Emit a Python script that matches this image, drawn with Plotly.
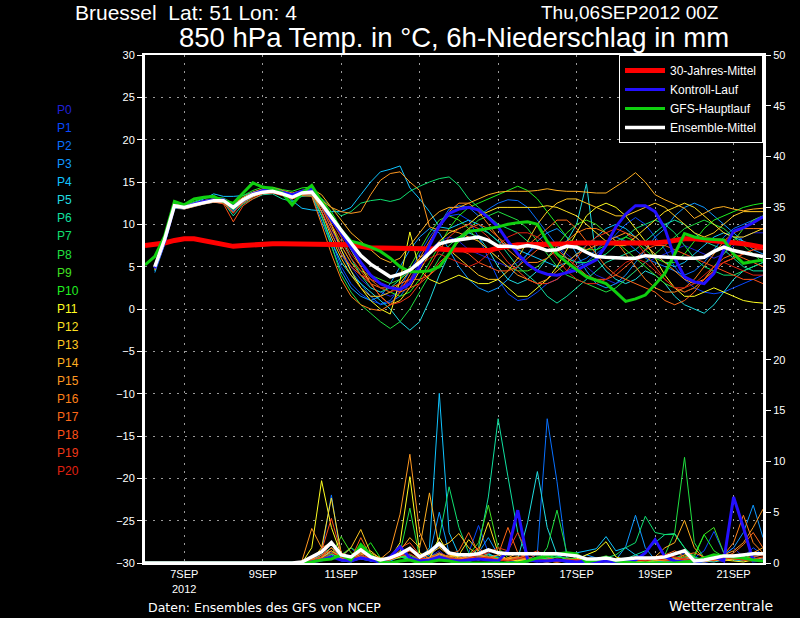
import pandas as pd
import plotly.graph_objects as go

# 6-hourly steps, GFS run of 06SEP2012 00Z
times = pd.date_range("2012-09-06 00:00", periods=64, freq="6h")
tick_days = ["2012-09-07", "2012-09-09", "2012-09-11", "2012-09-13",
             "2012-09-15", "2012-09-17", "2012-09-19", "2012-09-21"]
tick_labels = ["7SEP<br>2012", "9SEP", "11SEP", "13SEP",
               "15SEP", "17SEP", "19SEP", "21SEP"]
member_names = ["P%d" % k for k in range(21)]

# 850 hPa temperature (deg C)
t_clim = [7.5, 7.6, 7.8, 8.1, 8.3, 8.3, 8.1, 7.9, 7.6, 7.4, 7.5, 7.6, 7.7, 7.7, 7.7, 7.7,
          7.7, 7.7, 7.7, 7.7, 7.7, 7.6, 7.4, 7.2, 7.2, 7.2, 7.2, 7.2, 7.2, 7.2, 7.1, 7.0,
          7.0, 6.9, 6.9, 6.9, 7.2, 7.4, 7.6, 7.6, 7.6, 7.6, 7.7, 7.7, 7.8, 7.8, 7.8, 7.8,
          7.7, 7.7, 7.7, 7.7, 7.8, 7.9, 8.1, 8.3, 8.3, 8.2, 8.1, 8.0, 7.9, 7.7, 7.5, 7.3]
t_control = [None, 4.8, 8.0, 12.2, 12.0, 12.4, 12.7, 12.9, 12.9, 12.1, 12.9, 13.6, 14.0, 14.1, 13.8, 13.5, 13.9, 14.2,
             12.5, 10.5, 9.0, 7.2, 5.5, 4.0, 3.0, 2.5, 2.3, 3.0,
             5.0, 7.5, 9.8, 11.3, 11.8, 12.0, 11.7, 10.8, 9.7, 8.0,
             6.5, 5.3, 4.5, 4.1, 4.0, 4.3, 4.6, 5.2, 5.8, 7.5,
             9.7, 11.2, 12.2, 12.2, 11.5, 9.5, 6.0, 3.8, 3.2, 3.0,
             4.2, 7.0, 9.2, 9.6, 10.2, 10.9]
t_gfs = [5.2, 6.2, 8.6, 12.7, 12.3, 13.0, 13.2, 13.3, 12.7, 12.5, 13.7, 14.9, 14.4, 14.2, 13.7, 12.3, 13.7, 14.6,
         12.7, 11.0, 9.3, 8.0, 7.7, 7.3, 6.8, 6.0, 5.0, 4.4,
         4.4, 4.5, 5.0, 6.5, 8.3, 9.2, 9.3, 9.5, 9.7, 10.0,
         10.2, 10.3, 10.0, 8.0, 6.5, 5.5, 4.7, 3.8, 3.4, 3.0,
         2.0, 0.9, 1.2, 1.65, 2.9, 4.2, 6.5, 8.9, 8.5, 8.3,
         8.2, 8.15, 6.5, 5.4, 5.6, 5.8]
t_mean = [None, 5.0, 8.2, 12.2, 12.0, 12.3, 12.6, 12.8, 12.8, 12.0, 12.9, 13.5, 13.8, 13.9, 13.6, 13.2, 13.7, 13.8,
          12.4, 10.8, 9.3, 7.8, 6.3, 5.3, 4.6, 3.8, 4.1, 4.6,
          5.5, 6.6, 7.7, 8.0, 8.2, 8.3, 8.5, 8.1, 7.4, 7.4,
          7.3, 7.5, 7.3, 6.9, 7.0, 7.4, 7.3, 6.7, 6.2, 6.1,
          6.0, 6.0, 6.0, 6.3, 6.2, 6.1, 6.0, 6.0, 6.0, 6.1,
          6.8, 7.3, 6.9, 6.6, 6.4, 6.2]

t_p0 = [None, 5.0, 8.1, 12.3, 12.1, 12.4, 12.7, 12.9, 12.9, 12.2, 13.0, 13.6, 14.0, 14.1, 13.8, 13.4, 13.9, 14.0,
        12.0, 9.5, 7.0, 5.0, 3.5, 2.5, 2.0, 1.5, 2.0, 3.5,
        5.5, 7.0, 8.0, 8.5, 8.0, 7.0, 6.5, 6.0, 5.5, 5.0,
        5.5, 6.5, 7.5, 8.0, 7.5, 6.5, 5.5, 5.0, 4.0, 3.5,
        3.0, 3.5, 4.5, 5.5, 6.0, 6.5, 7.0, 7.5, 7.0, 6.5,
        6.0, 6.5, 7.5, 8.5, 9.0, 9.0]
t_p1 = [None, 4.6, 7.8, 12.0, 11.9, 12.2, 12.5, 12.7, 12.6, 11.6, 12.6, 13.3, 13.8, 13.9, 13.5, 13.1, 13.6, 13.6,
        11.0, 8.0, 5.0, 3.0, 1.8, 1.0, 0.6, 1.0, 2.5, 4.5,
        6.5, 8.5, 10.0, 11.0, 11.2, 10.5, 8.5, 6.0, 3.5, 1.8,
        1.0, 1.2, 2.0, 3.0, 3.5, 4.5, 5.0, 5.5, 6.5, 7.5,
        8.8, 10.0, 10.8, 10.0, 8.5, 7.0, 5.0, 3.5, 2.5, 2.0,
        1.8, 2.0, 2.5, 3.0, 3.5, 4.0]
t_p2 = [None, 4.8, 7.9, 12.1, 12.0, 12.3, 12.6, 12.8, 12.7, 11.9, 12.8, 13.4, 13.9, 14.0, 13.6, 13.3, 13.7, 13.7,
        11.5, 9.0, 6.5, 4.5, 3.0, 1.5, 0.5, 0.8, 1.5, 3.0,
        5.0, 7.5, 10.0, 11.8, 12.2, 12.0, 11.0, 11.8, 12.5, 12.9,
        12.8, 12.0, 10.5, 9.0, 7.5, 6.0, 5.5, 6.0, 7.0, 8.0,
        8.5, 8.0, 7.0, 6.0, 5.5, 5.0, 4.5, 4.0, 4.5, 5.5,
        7.0, 8.5, 9.5, 10.0, 10.5, 11.0]
t_p3 = [None, 4.3, 7.6, 11.9, 11.8, 12.1, 12.4, 12.6, 12.5, 11.5, 12.6, 13.3, 13.7, 13.8, 13.5, 13.0, 13.5, 13.4,
        10.5, 7.5, 4.5, 2.5, 1.5, 1.0, 1.5, 3.0, 5.0, 7.0,
        8.5, 9.5, 9.0, 7.0, 5.0, 3.5, 2.5, 2.0, 2.5, 3.5,
        5.0, 6.5, 8.0, 9.0, 9.5, 8.5, 6.5, 4.5, 3.0, 2.5,
        3.0, 4.0, 5.5, 7.0, 8.5, 9.5, 11.0, 12.0, 12.5, 12.0,
        11.0, 10.0, 9.0, 8.0, 7.0, 6.5]
t_p4 = [None, 5.2, 8.3, 12.4, 12.2, 12.6, 13.0, 13.6, 13.3, 13.3, 13.4, 13.8, 14.1, 14.2, 13.8, 12.8, 11.9, 11.7,
        11.6, 11.5, 11.5, 12.0, 13.5, 15.0, 16.2, 16.5, 16.9, 14.3,
        13.0, 11.5, 9.7, 9.5, 10.0, 10.5, 10.0, 9.0, 8.0, 7.5,
        7.0, 6.5, 6.0, 5.5, 5.0, 5.5, 6.5, 7.5, 8.5, 9.5,
        10.0, 9.5, 8.5, 7.5, 6.5, 5.5, 5.0, 5.5, 6.5, 7.5,
        8.5, 9.0, 8.5, 8.0, 7.5, 7.0]
t_p5 = [None, 4.5, 7.7, 12.0, 11.9, 12.2, 12.5, 12.7, 12.6, 11.8, 12.7, 13.4, 13.8, 13.9, 13.6, 13.2, 13.6, 13.5,
        11.0, 8.0, 5.5, 4.0, 3.0, 2.0, 1.0, 0.0, -1.5, -2.5,
        -1.5, 1.0, 4.0, 6.5, 8.0, 9.0, 8.5, 7.0, 5.0, 3.5,
        3.0, 3.5, 4.5, 6.0, 7.5, 8.0, 10.0, 14.8, 6.0, 4.5,
        3.5, 3.0, 3.5, 4.5, 4.0, 3.0, 1.5, 0.5, 0.0, -0.5,
        0.5, 2.0, 3.5, 4.5, 5.0, 5.5]
t_p6 = [None, 4.9, 8.0, 12.2, 12.0, 12.3, 12.6, 12.8, 12.6, 11.0, 12.4, 13.0, 13.5, 13.6, 13.0, 12.7, 13.3, 13.4,
        12.0, 10.5, 8.5, 6.0, 4.0, 2.5, 2.0, 2.5, 3.5, 4.5,
        5.5, 6.5, 7.5, 8.0, 8.5, 9.0, 9.5, 9.0, 8.0, 6.5,
        5.0, 4.0, 3.0, 1.5, 0.7, 1.5, 2.5, 3.5, 4.5, 5.5,
        6.0, 6.5, 7.0, 8.0, 9.0, 10.0, 10.5, 10.0, 9.0, 8.0,
        7.5, 7.0, 6.0, 5.0, 4.5, 4.5]
t_p7 = [None, 5.1, 8.2, 12.3, 12.1, 12.4, 12.7, 12.9, 12.9, 12.3, 13.1, 13.7, 14.1, 14.2, 13.9, 13.5, 14.0, 14.1,
        13.0, 12.0, 11.0, 11.5, 12.5, 12.8, 12.95, 12.7, 13.0, 13.9,
        14.5, 15.0, 15.4, 15.6, 14.6, 13.0, 12.0, 11.0, 10.0, 9.5,
        9.0, 8.0, 7.5, 7.0, 6.5, 6.0, 5.5, 5.5, 6.0, 6.5,
        7.5, 8.5, 9.5, 10.0, 10.5, 10.0, 9.0, 7.5, 6.0, 5.0,
        4.5, 4.0, 4.0, 4.5, 5.0, 5.5]
t_p8 = [None, 4.7, 7.8, 12.1, 11.9, 12.2, 12.5, 12.7, 12.6, 11.7, 12.7, 13.4, 13.8, 13.9, 13.6, 13.2, 13.6, 13.7,
        11.0, 7.5, 4.0, 2.0, 0.5, -0.5, -1.5, -2.3, -1.5, 0.0,
        2.0, 4.0, 6.0, 7.5, 8.5, 9.5, 10.5, 11.0, 11.5, 11.0,
        10.5, 9.5, 8.0, 6.5, 5.0, 4.0, 3.5, 3.0, 2.5, 2.0,
        2.5, 3.5, 4.5, 5.5, 6.5, 7.5, 8.5, 9.5, 10.0, 10.5,
        10.0, 9.5, 8.5, 7.5, 6.5, 5.5]
t_p9 = [None, 4.9, 8.0, 12.2, 12.0, 12.3, 12.6, 12.8, 12.8, 12.0, 12.9, 13.5, 13.9, 14.0, 13.7, 13.3, 13.7, 13.8,
        12.5, 10.0, 7.5, 5.5, 4.5, 4.0, 3.5, 3.0, 3.5, 5.0,
        7.0, 9.0, 10.5, 11.0, 10.5, 9.5, 8.0, 7.0, 6.0, 5.0,
        4.5, 4.5, 5.0, 6.0, 7.5, 9.0, 10.0, 10.5, 10.0, 9.0,
        8.0, 7.0, 6.0, 5.0, 4.0, 3.0, 2.5, 2.0, 2.5, 3.5,
        5.0, 6.5, 8.0, 9.5, 10.5, 11.0]
t_p10 = [None, 5.3, 8.4, 12.5, 12.3, 12.7, 13.1, 13.2, 13.1, 12.5, 13.4, 14.0, 14.4, 14.4, 14.1, 13.9, 14.3, 14.4,
         13.0, 11.5, 9.5, 7.0, 5.0, 3.5, 2.5, 2.0, 1.5, 2.0,
         3.5, 5.5, 7.5, 9.5, 11.0, 12.0, 12.5, 13.0, 13.5, 14.0,
         14.5, 14.0, 13.0, 11.5, 10.0, 8.5, 7.5, 7.0, 7.0, 7.5,
         8.0, 8.5, 8.0, 7.0, 6.0, 5.5, 5.5, 6.5, 8.0, 9.5,
         10.5, 11.0, 11.5, 12.0, 12.3, 12.5]
t_p11 = [None, 5.0, 8.0, 12.3, 12.1, 12.5, 12.8, 13.0, 13.0, 12.2, 13.0, 13.6, 14.0, 14.2, 13.9, 13.5, 13.9, 14.2,
         12.5, 10.0, 7.0, 4.5, 2.5, 1.0, 0.0, -0.6, 3.4, 9.1,
         4.6, 3.5, 3.0, 3.5, 4.0, 3.5, 3.0, 3.0, 3.5, 2.5,
         1.5, 1.5, 2.5, 3.5, 5.0, 7.0, 9.0, 11.0, 12.0, 12.5,
         12.0, 11.0, 9.5, 8.0, 6.0, 4.0, 2.5, 1.5, 1.5, 2.0,
         2.5, 2.0, 1.5, 1.0, 0.8, 0.7]
t_p12 = [None, 4.8, 7.9, 12.2, 12.0, 12.3, 12.6, 12.8, 12.7, 11.9, 12.8, 13.5, 13.9, 14.0, 13.7, 13.3, 13.8, 13.9,
         12.8, 11.0, 9.0, 7.0, 5.0, 3.0, 1.5, 0.5, 1.0, 2.5,
         4.5, 6.5, 8.0, 9.0, 9.5, 10.0, 11.0, 11.5, 12.0, 12.0,
         12.0, 12.0, 12.0, 12.2, 12.0, 11.5, 11.0, 10.0, 9.0, 8.0,
         7.5, 7.5, 8.5, 9.5, 10.5, 11.5, 12.0, 12.5, 12.0, 11.0,
         10.0, 9.0, 8.5, 8.5, 9.0, 9.5]
t_p13 = [None, 5.1, 8.2, 12.3, 12.1, 12.4, 12.7, 12.9, 12.8, 12.1, 13.0, 13.6, 14.0, 14.1, 13.8, 13.4, 13.8, 13.9,
         11.5, 8.5, 6.0, 4.0, 2.5, 1.5, 1.5, 2.0, 3.0, 4.5,
         6.0, 7.0, 7.5, 7.0, 6.0, 5.0, 4.0, 3.5, 3.5, 4.5,
         6.0, 8.0, 10.0, 11.5, 12.5, 13.0, 13.0, 12.5, 12.0, 11.5,
         11.0, 11.0, 11.5, 12.0, 12.5, 12.0, 11.0, 10.0, 9.0, 8.5,
         9.0, 10.0, 11.0, 11.5, 11.5, 11.5]
t_p14 = [None, 5.2, 8.3, 12.4, 12.2, 12.5, 12.8, 13.0, 12.9, 12.4, 13.2, 13.8, 14.2, 14.3, 14.0, 13.7, 14.0, 14.2,
         13.5, 12.0, 10.5, 9.0, 8.0, 7.0, 6.0, 5.5, 6.0, 7.5,
         9.0, 10.5, 11.5, 12.0, 12.0, 12.5, 13.0, 13.5, 13.8, 13.9,
         13.9, 13.9, 14.0, 14.2, 14.0, 13.9, 13.9, 13.8, 13.7, 13.7,
         14.4, 15.2, 16.1, 15.0, 13.5, 12.9, 12.4, 11.9, 10.7, 11.3,
         11.9, 12.1, 11.8, 11.6, 11.8, 11.9]
t_p15 = [None, 4.9, 8.0, 12.2, 12.0, 12.3, 12.6, 12.8, 12.7, 11.8, 12.8, 13.4, 13.9, 14.0, 13.6, 13.2, 13.7, 13.8,
         12.8, 12.0, 11.5, 11.3, 11.5, 13.5, 15.2, 16.0, 16.2, 15.0,
         14.0, 9.7, 9.3, 9.3, 9.0, 8.5, 8.0, 7.0, 6.0, 5.0,
         4.0, 3.5, 3.0, 3.5, 4.5, 5.5, 6.5, 7.0, 7.5, 8.0,
         8.5, 9.0, 8.5, 7.5, 6.5, 5.5, 4.5, 3.5, 3.0, 3.5,
         4.5, 5.5, 6.0, 6.5, 7.0, 7.5]
t_p16 = [None, 4.6, 7.7, 12.0, 11.8, 12.1, 12.4, 12.6, 12.5, 11.4, 12.5, 13.2, 13.7, 13.8, 13.4, 13.0, 13.4, 13.3,
         10.0, 6.5, 3.5, 1.5, 0.5, 0.0, -0.2, 0.5, 2.0, 4.0,
         6.0, 8.0, 10.0, 11.5, 12.5, 12.5, 11.5, 10.0, 8.5, 7.0,
         6.0, 5.5, 5.5, 6.0, 7.0, 8.0, 9.0, 9.5, 9.5, 9.0,
         8.0, 6.5, 5.0, 3.5, 2.5, 2.0, 2.0, 2.5, 3.5, 5.0,
         6.5, 8.0, 9.0, 9.5, 9.5, 9.5]
t_p17 = [None, 5.0, 8.1, 12.3, 12.1, 12.4, 12.7, 12.9, 12.8, 12.2, 13.0, 13.6, 14.0, 14.1, 13.8, 13.4, 13.8, 13.9,
         12.0, 9.5, 7.5, 5.5, 4.0, 3.0, 2.5, 2.5, 3.0, 3.5,
         3.5, 4.0, 5.0, 6.5, 8.0, 9.5, 10.0, 9.5, 8.5, 7.5,
         7.0, 7.5, 8.5, 9.5, 10.5, 10.5, 9.5, 8.0, 6.5, 5.0,
         4.0, 3.5, 3.0, 2.5, 2.0, 1.0, 0.5, 1.0, 2.0, 3.5,
         5.0, 6.0, 6.5, 6.0, 5.5, 5.0]
t_p18 = [None, 4.8, 7.9, 12.1, 11.9, 12.2, 12.5, 12.7, 12.4, 10.3, 12.2, 13.0, 13.6, 13.7, 13.4, 13.0, 13.5, 13.5,
         11.5, 9.0, 6.5, 5.0, 4.0, 3.5, 3.0, 2.5, 2.0, 2.5,
         3.0, 4.0, 5.5, 6.5, 7.0, 6.5, 5.5, 5.0, 4.5, 4.5,
         5.0, 6.0, 7.0, 7.5, 7.0, 6.0, 5.0, 4.0, 3.5, 3.5,
         4.0, 5.0, 6.0, 7.0, 7.5, 7.5, 7.0, 6.5, 6.0, 5.5,
         5.0, 4.5, 4.0, 3.5, 3.5, 3.0]
t_p19 = [None, 5.0, 8.0, 12.2, 12.0, 12.3, 12.6, 12.8, 12.6, 11.3, 12.7, 13.4, 13.8, 13.9, 13.6, 13.2, 13.7, 13.8,
         12.0, 10.0, 8.0, 6.0, 4.5, 3.0, 1.5, 0.5, 0.8, 1.5,
         3.0, 5.0, 7.0, 8.5, 9.5, 10.0, 9.5, 8.5, 7.0, 5.5,
         4.5, 3.5, 3.0, 3.0, 3.5, 4.5, 6.0, 7.5, 8.5, 9.0,
         9.5, 9.0, 8.0, 6.5, 5.0, 3.5, 2.5, 2.0, 2.5, 3.5,
         4.5, 5.5, 6.0, 6.5, 7.0, 7.0]
t_p20 = [None, 4.9, 8.0, 12.2, 12.0, 12.3, 12.6, 12.8, 12.7, 12.0, 12.9, 13.5, 13.9, 14.0, 13.7, 13.3, 13.7, 13.8,
         12.5, 10.5, 8.5, 6.5, 5.0, 3.5, 2.5, 2.0, 2.5, 3.5,
         5.0, 6.0, 6.5, 6.0, 5.5, 5.0, 5.5, 6.5, 7.5, 8.5,
         9.0, 9.0, 8.5, 7.5, 6.0, 4.5, 3.5, 3.0, 3.0, 3.5,
         4.5, 5.5, 6.0, 5.5, 4.5, 3.5, 2.5, 2.5, 3.0, 4.0,
         5.0, 5.5, 5.0, 4.5, 4.0, 4.0]

# 6h precipitation (mm), right axis
r_control = [0, 0, 0, 0, 0, 0, 0, 0, 0, 0, 0, 0, 0, 0, 0, 0,
             0, 0.1, 0.3, 0.6, 0.3, 0.2, 0.5, 0.3, 0.1, 0.6, 1.6, 0.5, 0.2, 0.3, 0.6, 0.3,
             0.2, 0.3, 0.4, 0.3, 0.2, 1.2, 5.2, 0.3, 0.2, 0.2, 0.3, 0.2, 0.1, 0.2, 0.1, 0.2,
             0.1, 0.2, 0.3, 1.0, 2.3, 0.6, 0.2, 0.1, 0.1, 0.3, 0.6, 0.2, 6.5, 3.5, 0.2, 0.3]
r_gfs = [0, 0, 0, 0, 0, 0, 0, 0, 0, 0, 0, 0, 0, 0, 0, 0,
         0, 0.1, 0.3, 0.4, 0.8, 0.3, 1.8, 0.8, 0.1, 0, 0.2, 0.3, 0, 0.1, 0.3, 0.2,
         0, 0, 0, 0, 0, 0, 0, 0.2, 0.5, 0.7, 0.9, 1.0, 0.9, 0.1, 0.3, 0.6,
         0.2, 0.1, 0, 0, 0, 0, 0, 0.1, 0.2, 0.5, 0.8, 0.7, 0.6, 0.5, 0.3, 0.2]
r_mean = [0, 0, 0, 0, 0, 0, 0, 0, 0, 0, 0, 0, 0, 0, 0, 0,
          0.1, 0.6, 1.1, 2.0, 0.8, 0.6, 1.3, 0.6, 0.3, 0.5, 0.9, 1.45, 0.6, 1.1, 1.9, 1.0,
          0.8, 0.8, 0.9, 1.3, 1.0, 0.9, 0.9, 0.9, 0.9, 0.9, 0.9, 0.8, 0.7, 0.4, 0.4, 0.5,
          0.3, 0.4, 0.5, 0.5, 0.5, 0.6, 0.9, 1.2, 0.2, 0.3, 0.5, 0.7, 0.7, 0.8, 0.9, 0.9]

r_p0 = [0, 0, 0, 0, 0, 0, 0, 0, 0, 0, 0, 0, 0, 0, 0, 0,
        0, 0.2, 0.6, 1.0, 0.3, 0.2, 0.8, 0.3, 0, 0.4, 1.5, 0.5, 0.2, 0.6, 1.2, 0.4,
        0.2, 0.3, 0.8, 0.3, 0.2, 0.3, 0.5, 0.2, 0.1, 0.5, 0.3, 0.1, 0, 0, 0.2, 0.1,
        0, 0.2, 0.6, 0.3, 0.1, 0, 0.4, 1.0, 0.2, 0, 0.3, 0.8, 1.5, 0.6, 0.3, 0.2]
r_p1 = [0, 0, 0, 0, 0, 0, 0, 0, 0, 0, 0, 0, 0, 0, 0, 0,
        0, 0.3, 0.8, 1.5, 0.6, 1.5, 0.5, 0.2, 0.1, 0.3, 1.0, 0.4, 0, 0.5, 1.8, 0.6,
        0.3, 1.0, 3.7, 1.0, 0.3, 0.2, 0.1, 0.3, 0.6, 0.3, 0.2, 0.1, 0, 0.2, 0.5, 0.3,
        0.1, 0, 0.2, 0.4, 0.3, 0.1, 0, 0.2, 0.5, 1.2, 3.1, 1.0, 0.4, 0.6, 1.5, 0.8]
r_p2 = [0, 0, 0, 0, 0, 0, 0, 0, 0, 0, 0, 0, 0, 0, 0, 0,
        0, 0.3, 1.0, 6.7, 0.5, 0.3, 1.2, 0.4, 0.1, 0.3, 0.8, 0.5, 0.2, 0.4, 0.9, 0.3,
        0.2, 0.1, 0.5, 0.8, 0.6, 0.3, 0.4, 0.2, 1.0, 14.2, 8.0, 0.5, 0.2, 0, 0.3, 0.2,
        0, 0.2, 0.3, 0.1, 0, 0.2, 0.5, 0.3, 0, 0.1, 0.2, 0.6, 0.4, 0.3, 0.5, 0.9]
r_p3 = [0, 0, 0, 0, 0, 0, 0, 0, 0, 0, 0, 0, 0, 0, 0, 0,
        0, 0.2, 0.5, 1.2, 0.4, 0.2, 0.6, 0.2, 0.1, 0.3, 0.7, 0.4, 0.3, 0.8, 5.0, 1.0,
        0.3, 0.6, 1.0, 2.5, 0.8, 0.3, 0.2, 0.1, 0.3, 0.5, 0.2, 0.1, 0.3, 0.8, 0.5, 0.4,
        0.3, 1.6, 4.7, 1.5, 0.3, 0.1, 0, 0.2, 0.4, 0.3, 0.5, 0.8, 1.5, 3.0, 5.7, 2.5]
r_p4 = [0, 0, 0, 0, 0, 0, 0, 0, 0, 0, 0, 0, 0, 0, 0, 0,
        0, 0.1, 0.4, 0.8, 0.2, 0.1, 0.5, 0.3, 0, 0.2, 0.6, 0.3, 0.4, 1.5, 16.7, 3.0,
        0.8, 0.5, 0.3, 0.6, 0.4, 0.2, 0.5, 0.3, 0.2, 0.4, 0.6, 0.8, 1.0, 1.2, 1.4, 2.6,
        1.2, 1.5, 0.8, 0.4, 0.2, 0.1, 0.3, 0.5, 0.3, 0.2, 0.4, 0.6, 0.3, 0.2, 0.4, 0.3]
r_p5 = [0, 0, 0, 0, 0, 0, 0, 0, 0, 0, 0, 0, 0, 0, 0, 0,
        0, 0.2, 0.6, 1.0, 0.3, 0.2, 0.4, 0.2, 0.1, 0.3, 0.8, 0.5, 0.2, 0.6, 1.0, 0.5,
        0.2, 0.3, 0.6, 0.9, 0.5, 0.3, 0.4, 4.0, 9.0, 3.5, 0.8, 0.3, 0.2, 0.1, 0.2, 0.1,
        0.1, 0, 0.2, 0.3, 0.1, 0, 0.2, 0.3, 0.5, 0.2, 0.1, 0.3, 0.6, 0.4, 0.3, 0.2]
r_p6 = [0, 0, 0, 0, 0, 0, 0, 0, 0, 0, 0, 0, 0, 0, 0, 0,
        0, 0.1, 0.3, 0.6, 0.8, 0.3, 0.5, 0.4, 0.2, 0.4, 0.6, 0.8, 0.3, 0.5, 0.7, 0.4,
        0.2, 0.3, 1.5, 6.5, 14.2, 8.5, 3.0, 0.5, 0.3, 0.5, 0.8, 1.0, 0.6, 0.3, 0.2, 0.3,
        0.2, 0.4, 0.8, 1.2, 2.0, 2.8, 2.9, 1.5, 0.5, 0.3, 0.2, 0.4, 0.6, 0.5, 0.3, 0.2]
r_p7 = [0, 0, 0, 0, 0, 0, 0, 0, 0, 0, 0, 0, 0, 0, 0, 0,
        0, 0.2, 0.8, 1.5, 1.0, 0.5, 0.9, 0.3, 0.1, 0.4, 0.9, 0.6, 0.3, 0.5, 2.5, 7.5,
        3.5, 1.0, 0.6, 0.8, 0.4, 0.2, 0.3, 0.5, 0.4, 0.3, 0.6, 0.5, 0.3, 0.2, 0.4, 0.5,
        0.8, 1.5, 2.0, 4.6, 3.0, 2.8, 2.8, 1.5, 0.6, 0.3, 0.2, 0.5, 0.8, 0.6, 0.4, 0.3]
r_p8 = [0, 0, 0, 0, 0, 0, 0, 0, 0, 0, 0, 0, 0, 0, 0, 0,
        0, 0.1, 0.5, 0.9, 0.4, 0.3, 0.6, 0.4, 0.2, 0.3, 1.0, 5.4, 0.5, 0.3, 0.6, 0.4,
        0.3, 0.2, 0.4, 0.6, 0.5, 0.3, 0.2, 0.3, 0.2, 1.5, 5.2, 1.0, 0.4, 0.2, 0.1, 0.2,
        0.3, 0.2, 0.1, 0.3, 0.5, 0.8, 3.0, 10.4, 2.0, 0.5, 0.3, 0.6, 0.4, 0.3, 0.2, 0.4]
r_p9 = [0, 0, 0, 0, 0, 0, 0, 0, 0, 0, 0, 0, 0, 0, 0, 0,
        0, 0.1, 0.4, 0.8, 2.6, 1.0, 0.5, 0.3, 0.2, 0.4, 0.5, 0.8, 0.4, 0.3, 0.5, 0.6,
        0.4, 0.8, 2.0, 5.7, 1.5, 0.5, 0.3, 0.2, 0.4, 0.3, 0.2, 0.5, 0.4, 0.3, 0.2, 0.1,
        0.2, 0.3, 0.5, 0.4, 0.2, 0.3, 0.4, 0.6, 0.8, 2.8, 3.5, 1.0, 0.5, 0.6, 0.4, 0.3]
r_p10 = [0, 0, 0, 0, 0, 0, 0, 0, 0, 0, 0, 0, 0, 0, 0, 0,
         0, 0.2, 0.3, 0.6, 0.8, 1.5, 0.9, 2.0, 0.5, 0.3, 0.6, 0.4, 0.2, 0.5, 0.8, 0.4,
         0.3, 0.2, 0.5, 0.6, 0.4, 0.3, 0.2, 0.4, 0.3, 0.5, 0.6, 0.4, 0.2, 0.1, 0.2, 0.3,
         0.2, 0.1, 0.3, 0.4, 0.3, 0.2, 0.5, 0.8, 0.6, 2.8, 1.2, 0.6, 0.4, 0.5, 0.8, 1.0]
r_p11 = [0, 0, 0, 0, 0, 0, 0, 0, 0, 0, 0, 0, 0, 0, 0, 0,
         0, 1.5, 8.1, 3.5, 0.8, 0.5, 1.0, 0.6, 0.3, 0.5, 2.0, 8.5, 1.0, 0.4, 2.5, 0.8,
         0.6, 0.4, 0.3, 0.5, 0.8, 0.3, 0.2, 0.3, 0.2, 0.1, 0.3, 0.2, 0.4, 0.8, 1.2, 2.1,
         0.6, 0.3, 0.2, 0.1, 0.2, 0.3, 0.2, 0.4, 0.3, 0.2, 0.5, 0.3, 0.2, 0.1, 0.3, 0.2]
r_p12 = [0, 0, 0, 0, 0, 0, 0, 0, 0, 0, 0, 0, 0, 0, 0, 0,
         0, 0.3, 1.5, 6.4, 1.0, 0.5, 0.8, 1.2, 0.4, 0.3, 0.6, 1.5, 0.5, 0.3, 0.9, 0.6,
         0.8, 2.3, 1.2, 4.0, 1.0, 0.3, 0.2, 0.4, 0.3, 0.2, 0.1, 0.3, 0.2, 0.1, 0.3, 0.2,
         0.1, 0.2, 0.3, 0.5, 0.3, 0.2, 0.4, 0.3, 0.2, 0.5, 0.3, 0.2, 0.4, 0.6, 0.3, 0.5]
r_p13 = [0, 0, 0, 0, 0, 0, 0, 0, 0, 0, 0, 0, 0, 0, 0, 0,
         0, 0.2, 0.5, 1.2, 0.6, 1.5, 3.3, 1.0, 0.5, 0.4, 0.8, 1.2, 0.6, 0.9, 1.5, 2.0,
         2.9, 1.5, 0.8, 0.5, 0.3, 0.4, 0.6, 0.3, 0.2, 0.1, 0.2, 0.3, 0.2, 0.4, 0.3, 0.2,
         0.3, 0.2, 0.1, 0.3, 0.5, 0.4, 0.2, 0.3, 0.2, 0.1, 0.3, 0.5, 0.4, 0.3, 0.2, 0.4]
r_p14 = [0, 0, 0, 0, 0, 0, 0, 0, 0, 0, 0, 0, 0, 0, 0, 0,
         0, 0.2, 0.6, 1.5, 0.5, 0.3, 0.6, 0.4, 0.2, 0.5, 1.2, 2.5, 1.5, 6.9, 1.5, 0.8,
         0.5, 0.3, 0.4, 0.6, 0.3, 0.5, 1.0, 0.6, 0.3, 0.2, 0.1, 0.2, 0.3, 0.4, 0.2, 0.1,
         0.2, 0.3, 0.4, 0.5, 0.6, 1.5, 2.0, 4.2, 1.5, 0.4, 0.3, 0.2, 0.5, 0.8, 1.0, 1.5]
r_p15 = [0, 0, 0, 0, 0, 0, 0, 0, 0, 0, 0, 0, 0, 0, 0, 0,
         0.2, 3.4, 1.5, 2.0, 0.6, 0.4, 1.5, 0.8, 0.4, 1.2, 4.8, 10.7, 3.0, 0.8, 0.5, 0.3,
         0.4, 0.6, 0.8, 0.5, 0.3, 0.2, 0.4, 0.3, 0.2, 0.1, 0.3, 0.2, 0.1, 0.2, 0.4, 0.3,
         0.2, 0.1, 0.3, 0.2, 0.4, 0.6, 0.3, 0.2, 0.1, 0.3, 0.5, 0.8, 1.2, 2.0, 3.5, 5.3]
r_p16 = [0, 0, 0, 0, 0, 0, 0, 0, 0, 0, 0, 0, 0, 0, 0, 0,
         0, 0.3, 0.8, 1.2, 0.5, 0.3, 0.7, 0.5, 0.2, 0.4, 0.9, 0.6, 0.3, 0.5, 0.8, 0.4,
         0.3, 0.5, 0.6, 0.4, 0.3, 0.5, 0.6, 0.4, 0.3, 0.2, 0.3, 0.2, 0.1, 0.2, 0.3, 0.4,
         0.3, 0.2, 0.4, 0.5, 0.3, 0.2, 0.3, 0.8, 1.0, 0.6, 0.4, 0.8, 2.0, 4.7, 2.0, 1.0]
r_p17 = [0, 0, 0, 0, 0, 0, 0, 0, 0, 0, 0, 0, 0, 0, 0, 0,
         0, 0.2, 0.5, 1.5, 0.8, 0.4, 2.5, 0.6, 0.3, 0.5, 0.8, 1.5, 0.6, 0.3, 0.5, 0.8,
         1.2, 3.0, 1.0, 0.5, 0.8, 3.5, 1.0, 0.4, 0.3, 0.2, 0.4, 0.3, 0.2, 0.1, 0.2, 0.3,
         0.2, 0.3, 0.5, 0.4, 0.6, 0.8, 1.2, 0.6, 0.4, 0.3, 0.2, 0.5, 1.0, 1.8, 3.0, 1.5]
r_p18 = [0, 0, 0, 0, 0, 0, 0, 0, 0, 0, 0, 0, 0, 0, 0, 0,
         0, 0.3, 1.2, 4.4, 1.0, 0.5, 1.5, 0.8, 0.3, 0.6, 1.5, 2.0, 0.8, 0.5, 1.0, 0.6,
         0.4, 0.8, 1.5, 0.6, 0.4, 0.3, 0.5, 0.8, 1.2, 0.5, 0.3, 0.2, 0.3, 0.2, 0.4, 0.3,
         0.2, 0.3, 0.6, 0.4, 0.3, 0.8, 0.5, 0.3, 0.2, 0.3, 0.4, 0.6, 0.8, 0.5, 0.6, 0.8]
r_p19 = [0, 0, 0, 0, 0, 0, 0, 0, 0, 0, 0, 0, 0, 0, 0, 0,
         0, 0.2, 0.6, 2.0, 0.8, 0.4, 1.0, 0.5, 0.2, 0.4, 0.8, 1.2, 0.5, 0.3, 0.6, 0.5,
         0.3, 0.5, 0.8, 1.0, 1.5, 1.2, 3.0, 1.0, 0.4, 0.3, 0.2, 0.4, 0.3, 0.2, 0.1, 0.2,
         0.3, 0.4, 0.2, 0.3, 0.5, 0.8, 0.6, 0.4, 0.3, 0.2, 0.4, 0.6, 0.5, 0.3, 0.4, 0.6]
r_p20 = [0, 0, 0, 0, 0, 0, 0, 0, 0, 0, 0, 0, 0, 0, 0, 0,
         0, 0.1, 0.4, 1.0, 0.6, 0.3, 0.8, 0.4, 0.2, 0.3, 0.7, 0.9, 0.4, 0.3, 0.5, 0.4,
         0.3, 0.4, 0.6, 0.5, 0.3, 0.2, 0.4, 0.6, 0.3, 0.2, 0.1, 0.2, 0.3, 0.2, 0.1, 0.2,
         0.1, 0.2, 0.3, 0.2, 0.4, 0.3, 0.2, 0.4, 0.3, 0.2, 0.3, 0.5, 0.4, 0.3, 0.2, 0.3]

member_t = [t_p0, t_p1, t_p2, t_p3, t_p4, t_p5, t_p6, t_p7, t_p8, t_p9, t_p10,
            t_p11, t_p12, t_p13, t_p14, t_p15, t_p16, t_p17, t_p18, t_p19, t_p20]
member_r = [r_p0, r_p1, r_p2, r_p3, r_p4, r_p5, r_p6, r_p7, r_p8, r_p9, r_p10,
            r_p11, r_p12, r_p13, r_p14, r_p15, r_p16, r_p17, r_p18, r_p19, r_p20]

member_colors = ["#2020d8", "#0848ff", "#0870ff", "#1098ff", "#10c4ff", "#20dce0",
                 "#10e0a0", "#10e070", "#20e040", "#40e020", "#20f020", "#ffff20",
                 "#ffe020", "#ffc820", "#ffb020", "#ff9820", "#ff8018", "#ff6818",
                 "#ff5018", "#f03818", "#e02010"]

FONT = "Liberation Sans"
WIDE = "DejaVu Sans"
# plot frame in pixels, used to place the free texts
PL, PR, PT, PB = 145, 763, 55, 563


def px(x):
    return (x - PL) / (PR - PL)


def py(y):
    return (PB - y) / (PB - PT)


data = []
for k in range(21):
    data.append(go.Scatter(x=times, y=member_t[k], mode="lines", showlegend=False,
                           line=dict(color=member_colors[k], width=1), hoverinfo="skip"))
for k in range(21):
    data.append(go.Scatter(x=times, y=member_r[k], yaxis="y2", mode="lines", showlegend=False,
                           line=dict(color=member_colors[k], width=1), hoverinfo="skip"))

data.append(go.Scatter(x=times, y=t_clim, mode="lines", name="30-Jahres-Mittel",
                       line=dict(color="#ff0000", width=5)))
data.append(go.Scatter(x=times, y=t_control, mode="lines", name="Kontroll-Lauf",
                       legendgroup="ctl", line=dict(color="#2410ff", width=3)))
data.append(go.Scatter(x=times, y=r_control, yaxis="y2", mode="lines", showlegend=False,
                       legendgroup="ctl", line=dict(color="#2410ff", width=3)))
data.append(go.Scatter(x=times, y=t_gfs, mode="lines", name="GFS-Hauptlauf",
                       legendgroup="gfs", line=dict(color="#10d010", width=3)))
data.append(go.Scatter(x=times, y=r_gfs, yaxis="y2", mode="lines", showlegend=False,
                       legendgroup="gfs", line=dict(color="#10d010", width=3)))
data.append(go.Scatter(x=times, y=t_mean, mode="lines", name="Ensemble-Mittel",
                       legendgroup="mean", line=dict(color="#ffffff", width=3.5)))
data.append(go.Scatter(x=times, y=r_mean, yaxis="y2", mode="lines", showlegend=False,
                       legendgroup="mean", line=dict(color="#ffffff", width=3.5)))

axis_font = dict(family=FONT, size=11, color="white")
grid = dict(showgrid=True, gridcolor="#9a9a9a", gridwidth=1, griddash="2px,6px")

annotations = [
    dict(x=px(73), y=py(13), text="Bruessel\u00a0\u00a0Lat: 51 Lon: 4", xanchor="left",
         font=dict(family=FONT, size=21, color="white")),
    dict(x=px(721), y=py(13), text="Thu,06SEP2012 00Z", xanchor="right",
         font=dict(family=FONT, size=19, color="white")),
    dict(x=px(454), y=py(37), text="850 hPa Temp. in °C, 6h-Niederschlag in mm", xanchor="center",
         font=dict(family=FONT, size=27.5, color="white")),
    dict(x=px(146), y=py(607), text="Daten: Ensembles des GFS von NCEP", xanchor="left",
         font=dict(family=WIDE, size=12.5, color="white")),
    dict(x=px(775), y=py(606), text="Wetterzentrale", xanchor="right",
         font=dict(family=WIDE, size=14, color="white")),
]
for k, name in enumerate(member_names):
    annotations.append(dict(x=px(55), y=py(110 + 18.07 * k), text=name, xanchor="left",
                            font=dict(family=FONT, size=12, color=member_colors[k])))
for a in annotations:
    a.update(xref="paper", yref="paper", yanchor="middle", showarrow=False)

layout = go.Layout(
    width=800, height=618,
    paper_bgcolor="black", plot_bgcolor="black",
    margin=dict(l=PL, r=800 - PR, t=PT, b=618 - PB),
    xaxis=dict(type="date", range=["2012-09-06 00:00", "2012-09-21 18:00"],
               tickvals=tick_days, ticktext=tick_labels, ticks="",
               tickfont=axis_font, showline=True, linecolor="white", linewidth=2,
               mirror=True, zeroline=False, **grid),
    yaxis=dict(range=[-30, 30], tick0=0, dtick=5, ticks="outside", ticklen=5,
               tickcolor="white", tickfont=axis_font, showline=True, linecolor="white",
               linewidth=3, mirror=True, zeroline=False, **grid),
    yaxis2=dict(range=[0, 50], tick0=0, dtick=5, overlaying="y", side="right",
                ticks="outside", ticklen=5, tickcolor="white", tickfont=axis_font,
                showline=True, linecolor="white", linewidth=3, showgrid=False,
                zeroline=False),
    legend=dict(x=1, y=1, xanchor="right", yanchor="top", bgcolor="black",
                bordercolor="white", borderwidth=1, itemwidth=40, tracegroupgap=0,
                font=dict(family=FONT, size=12, color="white")),
    annotations=annotations,
    hovermode="closest",
)

fig = go.Figure(data=data, layout=layout)
fig.write_html("out.html", config={"displayModeBar": False},
               post_script="document.body.style.margin='0';document.body.style.background='black';")
